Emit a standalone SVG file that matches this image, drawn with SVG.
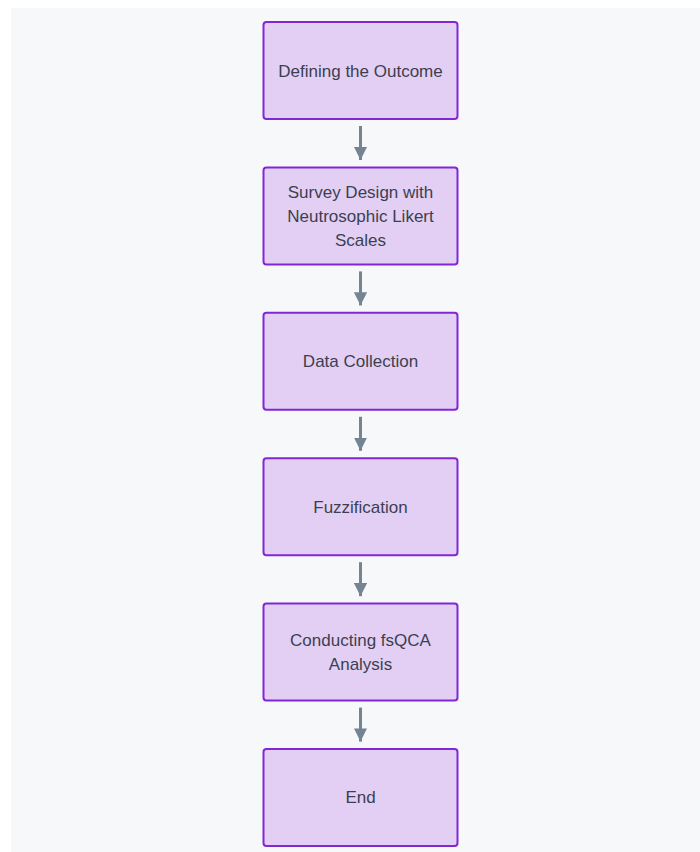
<svg xmlns="http://www.w3.org/2000/svg" width="700" height="852" viewBox="0 0 700 852">
<defs>
<style>
.node rect{fill:#e3cff3;stroke:#8226d6;stroke-width:2}
.node text{font-family:"Liberation Sans","DejaVu Sans",sans-serif;font-size:17px;fill:#3b3f51;text-anchor:middle;dominant-baseline:central}
.edge{stroke:#748492;stroke-width:3;fill:none}
</style>
<marker id="ah" viewBox="0 0 10 10" refX="10" refY="5" markerWidth="4.4" markerHeight="4.4" markerUnits="strokeWidth" orient="auto">
<path d="M0,0 L10,5 L0,10 z" fill="#748492"/>
</marker>
</defs>
<rect x="0" y="0" width="700" height="852" fill="#ffffff"/>
<rect x="11" y="8" width="689" height="844" fill="#f7f8fa"/>
<g id="connectors">
<line class="edge" x1="360.5" y1="126" x2="360.5" y2="160" marker-end="url(#ah)"/>
<line class="edge" x1="360.5" y1="271.4" x2="360.5" y2="305.4" marker-end="url(#ah)"/>
<line class="edge" x1="360.5" y1="416.8" x2="360.5" y2="450.8" marker-end="url(#ah)"/>
<line class="edge" x1="360.5" y1="562.2" x2="360.5" y2="596.2" marker-end="url(#ah)"/>
<line class="edge" x1="360.5" y1="707.6" x2="360.5" y2="741.6" marker-end="url(#ah)"/>
</g>
<g id="n1" class="node"><rect x="263.5" y="22" width="194" height="97" rx="3"/><text x="360.5" y="71">Defining the Outcome</text></g>
<g id="n2" class="node"><rect x="263.5" y="167.4" width="194" height="97" rx="3"/><text x="360.5" y="192">Survey Design with</text><text x="360.5" y="216">Neutrosophic Likert</text><text x="360.5" y="240">Scales</text></g>
<g id="n3" class="node"><rect x="263.5" y="312.8" width="194" height="97" rx="3"/><text x="360.5" y="361.5">Data Collection</text></g>
<g id="n4" class="node"><rect x="263.5" y="458.2" width="194" height="97" rx="3"/><text x="360.5" y="507">Fuzzification</text></g>
<g id="n5" class="node"><rect x="263.5" y="603.6" width="194" height="97" rx="3"/><text x="360.5" y="640">Conducting fsQCA</text><text x="360.5" y="664">Analysis</text></g>
<g id="n6" class="node"><rect x="263.5" y="749" width="194" height="97" rx="3"/><text x="360.5" y="797.5">End</text></g>
</svg>
